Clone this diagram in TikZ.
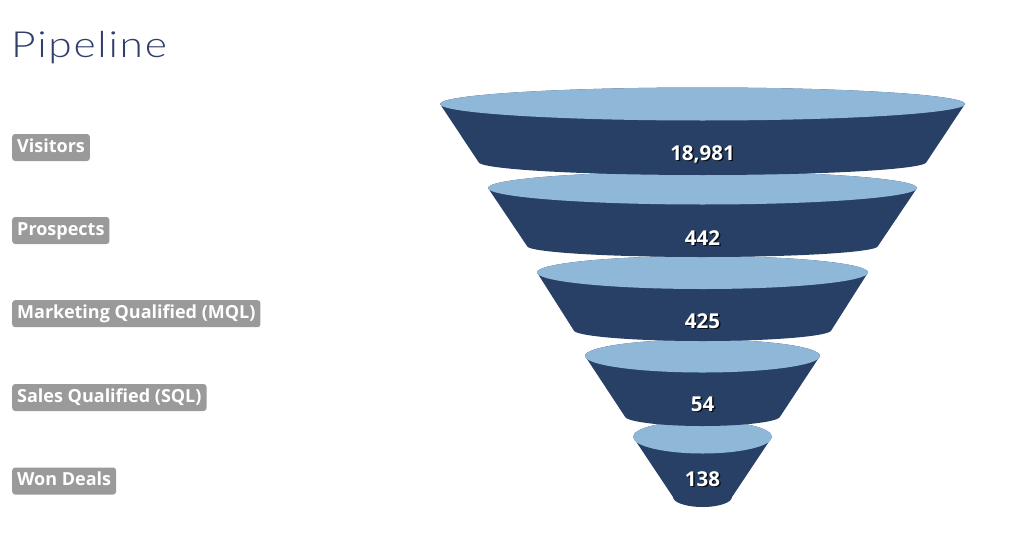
\documentclass[tikz,border=0pt]{standalone}
\usepackage{fontspec}
\setmainfont{Open Sans}
\newfontfamily\titlefont{Lato Light}[LetterSpace=4]
\definecolor{funneldark}{RGB}{40,64,102}
\definecolor{funnellight}{RGB}{143,183,216}
\definecolor{labelgray}{RGB}{154,154,154}
\definecolor{titlenavy}{RGB}{48,62,108}
\newcommand\funnelseg[5]{%
  \fill[funneldark] ({702.5-#2},#1) -- ({702.5-#4},#3)
     arc[start angle=180,end angle=360,x radius=#4pt,y radius=#5pt]
     -- ({702.5+#2},#1)
     arc[start angle=0,end angle=180,x radius=#2pt,y radius=16.5pt] -- cycle;
  \fill[funnellight] (702.5,#1) ellipse[x radius=#2pt,y radius=16.5pt];
}
\tikzset{
  stagelabel/.style={fill=labelgray,text=white,rounded corners=3pt,anchor=west,
    font=\fontsize{18}{18}\selectfont\bfseries,inner xsep=5pt,inner ysep=0pt,
    minimum height=27pt,text height=13pt,text depth=3.5pt},
  countshadow/.style={text=black,opacity=0.8,font=\fontsize{20.5}{20.5}\selectfont\bfseries},
  count/.style={text=white,font=\fontsize{20.5}{20.5}\selectfont\bfseries},
}
\begin{document}
\begin{tikzpicture}[x=1pt,y=-1pt]
\useasboundingbox (0,0) rectangle (1024,551);
\fill[white] (0,0) rectangle (1024,551);
% funnel, bottom segment first so upper ones overlap
\funnelseg{437}{69.5}{497}{29.5}{10}
\funnelseg{356}{117.5}{416}{78}{10}
\funnelseg{272.5}{165.5}{330}{129}{11}
\funnelseg{188}{214.5}{246}{175.5}{11}
\funnelseg{104}{262.5}{162}{224}{13}
% counts
\foreach \nm/\yy/\val in {c1/154/{18,981},c2/238/442,c3/321/425,c4/404/54,c5/479/138}{
  \node[countshadow] (\nm s) at (704,\yy+1.5) {\val};
  \node[count] (\nm) at (702.5,\yy) {\val};
}
% title
\node[anchor=base west,inner sep=0pt,text=titlenavy,xscale=1.18,transform shape,
  font=\titlefont\fontsize{36}{36}\selectfont] (title) at (11,57.5) {Pipeline};
% stage labels
\node[stagelabel] (visitors) at (12,147.5) {Visitors};
\node[stagelabel] (prospects) at (12,230.5) {Prospects};
\node[stagelabel] (mql) at (12,313.7) {Marketing Qualified (MQL)};
\node[stagelabel] (sql) at (12,397.5) {Sales Qualified (SQL)};
\node[stagelabel] (won) at (12,481) {Won Deals};
\end{tikzpicture}
\end{document}
